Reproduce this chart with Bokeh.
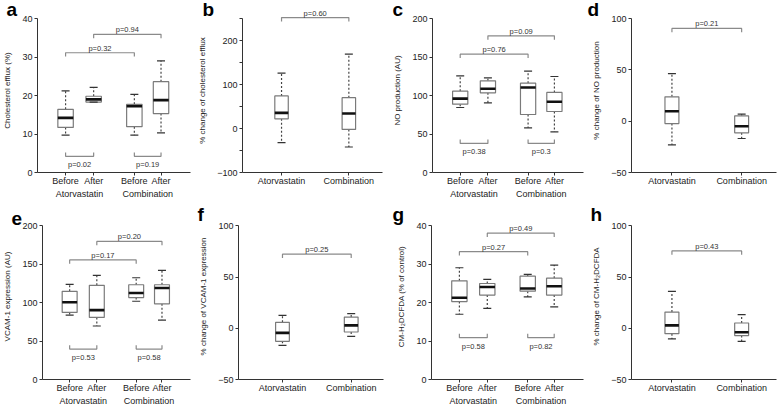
from bokeh.plotting import figure
from bokeh.layouts import column, row
from bokeh.models import FixedTicker, LinearAxis, Range1d, Title
from bokeh.core.properties import value
from bokeh.embed import file_html
from bokeh.resources import INLINE

FONT = "Liberation Sans"

# ---------------- categories ----------------
sub_labels = ["Before", "After", "Before", "After"]
group_labels = ["Atorvastatin", "Combination"]
pair_from = [0, 1, 0, 2]
pair_to = [2, 3, 1, 3]
pair_side = [1, 1, -1, -1]

# ---------------- a: cholesterol efflux (%) ----------------
a_min = [9.7, 18.3, 9.7, 10.3]
a_q1 = [11.7, 18.3, 11.9, 15.3]
a_med = [14.2, 19.0, 17.2, 18.8]
a_q3 = [16.4, 19.8, 17.7, 23.6]
a_max = [21.2, 22.1, 20.3, 29.0]
a_p_text = ["p=0.32", "p=0.94", "p=0.02", "p=0.19"]
a_p_y = [31.1, 35.9, 4.2, 4.2]

# ---------------- b: % change of cholesterol efflux ----------------
b_min = [-32, -42]
b_q1 = [22, -2]
b_med = [35.5, 34]
b_q3 = [74, 70]
b_max = [126, 169]
b_p_text = ["p=0.60"]
b_p_y = [252]

# ---------------- c: NO production (AU) ----------------
c_min = [84.4, 90.5, 58, 52.8]
c_q1 = [88.7, 103.5, 75.3, 79.2]
c_med = [96, 108.7, 110.4, 91.8]
c_q3 = [105.6, 119, 116, 104]
c_max = [125.5, 123, 131.6, 124.7]
c_p_text = ["p=0.76", "p=0.09", "p=0.38", "p=0.3"]
c_p_y = [153.7, 177.5, 37.7, 37.7]

# ---------------- d: % change of NO production ----------------
d_min = [-23, -16.9]
d_q1 = [-2.3, -11.4]
d_med = [9.7, -4.9]
d_q3 = [23.7, 5.2]
d_max = [46.4, 6.8]
d_p_text = ["p=0.21"]
d_p_y = [90.3]

# ---------------- e: VCAM-1 expression (AU) ----------------
e_min = [83.9, 69.7, 101.9, 77.4]
e_q1 = [87.3, 80.9, 106.7, 98.5]
e_med = [100.6, 90.3, 112.7, 119.1]
e_q3 = [114.8, 122.6, 123.4, 123.4]
e_max = [123.9, 135.5, 132.5, 142]
e_p_text = ["p=0.17", "p=0.20", "p=0.53", "p=0.58"]
e_p_y = [155.7, 179.8, 39.6, 39.6]

# ---------------- f: % change of VCAM-1 expression ----------------
f_min = [-16.6, -7.8]
f_q1 = [-12.7, -3.6]
f_med = [-4.5, 2.9]
f_q3 = [5.8, 11]
f_max = [12.7, 14.3]
f_p_text = ["p=0.25"]
f_p_y = [72.4]

# ---------------- g: CM-H2DCFDA (% of control) ----------------
g_min = [17, 18.5, 21.5, 18.9]
g_q1 = [20.3, 22, 23, 22]
g_med = [21.3, 24.1, 23.7, 24.3]
g_q3 = [25.7, 25, 26.9, 26.4]
g_max = [29.1, 26.1, 27.4, 29.8]
g_p_text = ["p=0.27", "p=0.49", "p=0.58", "p=0.82"]
g_p_y = [33.3, 38.1, 10.9, 10.9]

# ---------------- h: % change of CM-H2DCFDA ----------------
h_min = [-10.4, -12.7]
h_q1 = [-5.2, -7.1]
h_med = [2.9, -3.9]
h_q3 = [15.9, 5.2]
h_max = [36, 13.3]
h_p_text = ["p=0.43"]
h_p_y = [75.6]

# ---------------- layout constants ----------------
POS4 = [1, 2, 3.45, 4.4]
XR4 = (0.0, 5.45)
POS2 = [1, 2]
AXC = "#333333"


def style_axis(ax):
    ax.axis_line_color = AXC
    ax.axis_line_width = 1
    ax.major_tick_line_color = AXC
    ax.minor_tick_line_color = AXC
    ax.major_tick_out = 3
    ax.major_tick_in = 0
    ax.minor_tick_out = 3
    ax.minor_tick_in = 0
    ax.major_label_text_font = FONT
    ax.major_label_text_font_size = "9px"
    ax.major_label_text_color = "#222222"
    ax.major_label_standoff = 2


def make_panel(letter, ylabel, ymin, ymax, major, minor, mn, q1, med, q3, mx,
               ptext, py, width, height, bl, br, bt, bb, gap, letter_dx, four, xr=None):
    pos = POS4 if four else POS2
    if xr is None:
        xr = XR4 if four else (0.42, 2.5)
    box_w = 0.55 if four else 0.2
    span = ymax - ymin
    y_end = ymax + span * gap
    p = figure(width=width, height=height, x_range=Range1d(*xr),
               y_range=Range1d(ymin, y_end), output_backend="svg",
               toolbar_location=None,
               min_border_left=bl, min_border_right=br,
               min_border_top=bt, min_border_bottom=bb)
    p.title = Title(text=letter, align="left", offset=-letter_dx, standoff=-22,
                    vertical_align="bottom", text_font=FONT, text_font_size="19px",
                    text_font_style="bold", text_color="black")
    p.outline_line_color = None
    p.background_fill_color = "white"
    p.border_fill_color = "white"
    p.xgrid.visible = False
    p.ygrid.visible = False

    ya = p.yaxis[0]
    ya.ticker = FixedTicker(ticks=major, minor_ticks=minor)
    ya.bounds = (ymin, ymax)
    style_axis(ya)
    ya.axis_label = ylabel
    ya.axis_label_text_font = FONT
    ya.axis_label_text_font_size = "8px"
    ya.axis_label_text_font_style = "normal"
    ya.axis_label_text_color = "#222222"
    ya.axis_label_standoff = 7

    xa = p.xaxis[0]
    xa.ticker = FixedTicker(ticks=pos, minor_ticks=[])
    style_axis(xa)
    xa.axis_label = None
    xa.axis_label_standoff = 0
    xa.major_label_standoff = 0
    if four:
        xa.major_label_overrides = {pos[i]: sub_labels[i] for i in range(4)}
        centers = [(pos[0] + pos[1]) / 2, (pos[2] + pos[3]) / 2]
        ga = LinearAxis(ticker=FixedTicker(ticks=centers, minor_ticks=[]),
                        major_label_overrides={centers[i]: group_labels[i] for i in range(2)})
        style_axis(ga)
        ga.axis_label = None
        ga.axis_label_standoff = 0
        ga.axis_line_color = None
        ga.major_tick_line_color = None
        ga.major_tick_out = 0
        ga.major_label_standoff = 0
        p.add_layout(ga, "below")
    else:
        xa.major_label_overrides = {pos[i]: group_labels[i] for i in range(2)}

    # whiskers
    p.segment(x0=pos, y0=q3, x1=pos, y1=mx, line_color="#444444", line_width=1.2, line_dash="2 2")
    p.segment(x0=pos, y0=q1, x1=pos, y1=mn, line_color="#444444", line_width=1.2, line_dash="2 2")
    # boxes
    p.vbar(x=pos, width=box_w, top=q3, bottom=q1, fill_color="white",
           line_color="#7a7a7a", line_width=1.2)
    # medians
    p.segment(x0=[x - box_w / 2 for x in pos], x1=[x + box_w / 2 for x in pos],
              y0=med, y1=med, line_color="#111111", line_width=2.6)
    # caps
    p.scatter(x=pos + pos, y=list(mx) + list(mn), marker="dash", size=8,
              line_color="#333333", line_width=1.2)

    # brackets
    if four:
        pf, pt, ps = pair_from, pair_to, pair_side
    else:
        pf, pt, ps = [0], [1], [1]
    leg = span * 0.025
    xs, ys, tx, ty = [], [], [], []
    for k in range(len(ptext)):
        x1, x2 = pos[pf[k]], pos[pt[k]]
        yb = py[k]
        if ps[k] > 0:
            yl = yb - leg
            ty.append(yb + span * 0.03)
        else:
            yl = yb + leg
            ty.append(yb - span * 0.055)
        xs.append([x1, x1, x2, x2])
        ys.append([yl, yb, yb, yl])
        tx.append((x1 + x2) / 2)
    p.multi_line(xs=xs, ys=ys, line_color="#8a8a8a", line_width=1.2)
    p.text(x=tx, y=ty, text=ptext, text_font=value(FONT), text_font_size="7.5px",
           text_align="center", text_baseline="middle", text_color="#333333")
    return p


T10_40 = [0, 10, 20, 30, 40]
T0_200 = [0, 50, 100, 150, 200]
TM50_100 = [-50, 0, 50, 100]

# row geometry: height, top border, bottom border, headroom above the top tick (fraction of span)
H1, BT1, BB1, G1 = 205, 8, 33, 10.0 / 154.0
H2, BT2, BB2, G2 = 203, 8, 28, 12.5 / 154.5

pa = make_panel("a", "Cholesterol efflux (%)", 0, 40, T10_40, [], a_min, a_q1, a_med, a_q3, a_max,
                a_p_text, a_p_y, 195, H1, 33, 5, BT1, BB1, G1, 31, True)
pb = make_panel("b", "% change of cholesterol efflux", -100, 250, [-100, 0, 100, 200], [-50, 50, 150, 250],
                b_min, b_q1, b_med, b_q3, b_max, b_p_text, b_p_y, 195, H1, 42, 8, BT1, BB1, G1, 40, False)
pc = make_panel("c", "NO production (AU)", 0, 200, T0_200, [], c_min, c_q1, c_med, c_q3, c_max,
                c_p_text, c_p_y, 195, H1, 41, 2, BT1, BB1, G1, 40, True)
pd = make_panel("d", "% change of NO production", -50, 100, TM50_100, [], d_min, d_q1, d_med, d_q3, d_max,
                d_p_text, d_p_y, 193, H1, 46, 2, BT1, BB1, G1, 44, False)

pe = make_panel("e", "VCAM-1 expression (AU)", 0, 200, T0_200, [], e_min, e_q1, e_med, e_q3, e_max,
                e_p_text, e_p_y, 195, H2, 33, 5, BT2, BB2, G2, 31, True)
pf_ = make_panel("f", "% change of VCAM-1 expression", -50, 100, TM50_100, [], f_min, f_q1, f_med, f_q3, f_max,
                 f_p_text, f_p_y, 195, H2, 43, 7, BT2, BB2, G2, 41, False, xr=(0.36, 2.47))
pg = make_panel("g", "CM-H\u2082DCFDA (% of control)", 0, 40, T10_40, [], g_min, g_q1, g_med, g_q3, g_max,
                g_p_text, g_p_y, 195, H2, 41, 2, BT2, BB2, G2, 39, True)
ph = make_panel("h", "% change of CM-H\u2082DCFDA", -50, 100, TM50_100, [], h_min, h_q1, h_med, h_q3, h_max,
                h_p_text, h_p_y, 193, H2, 46, 2, BT2, BB2, G2, 41, False)

layout = column(row(pa, pb, pc, pd), row(pe, pf_, pg, ph))

open("out.html", "w").write(file_html(layout, INLINE))
